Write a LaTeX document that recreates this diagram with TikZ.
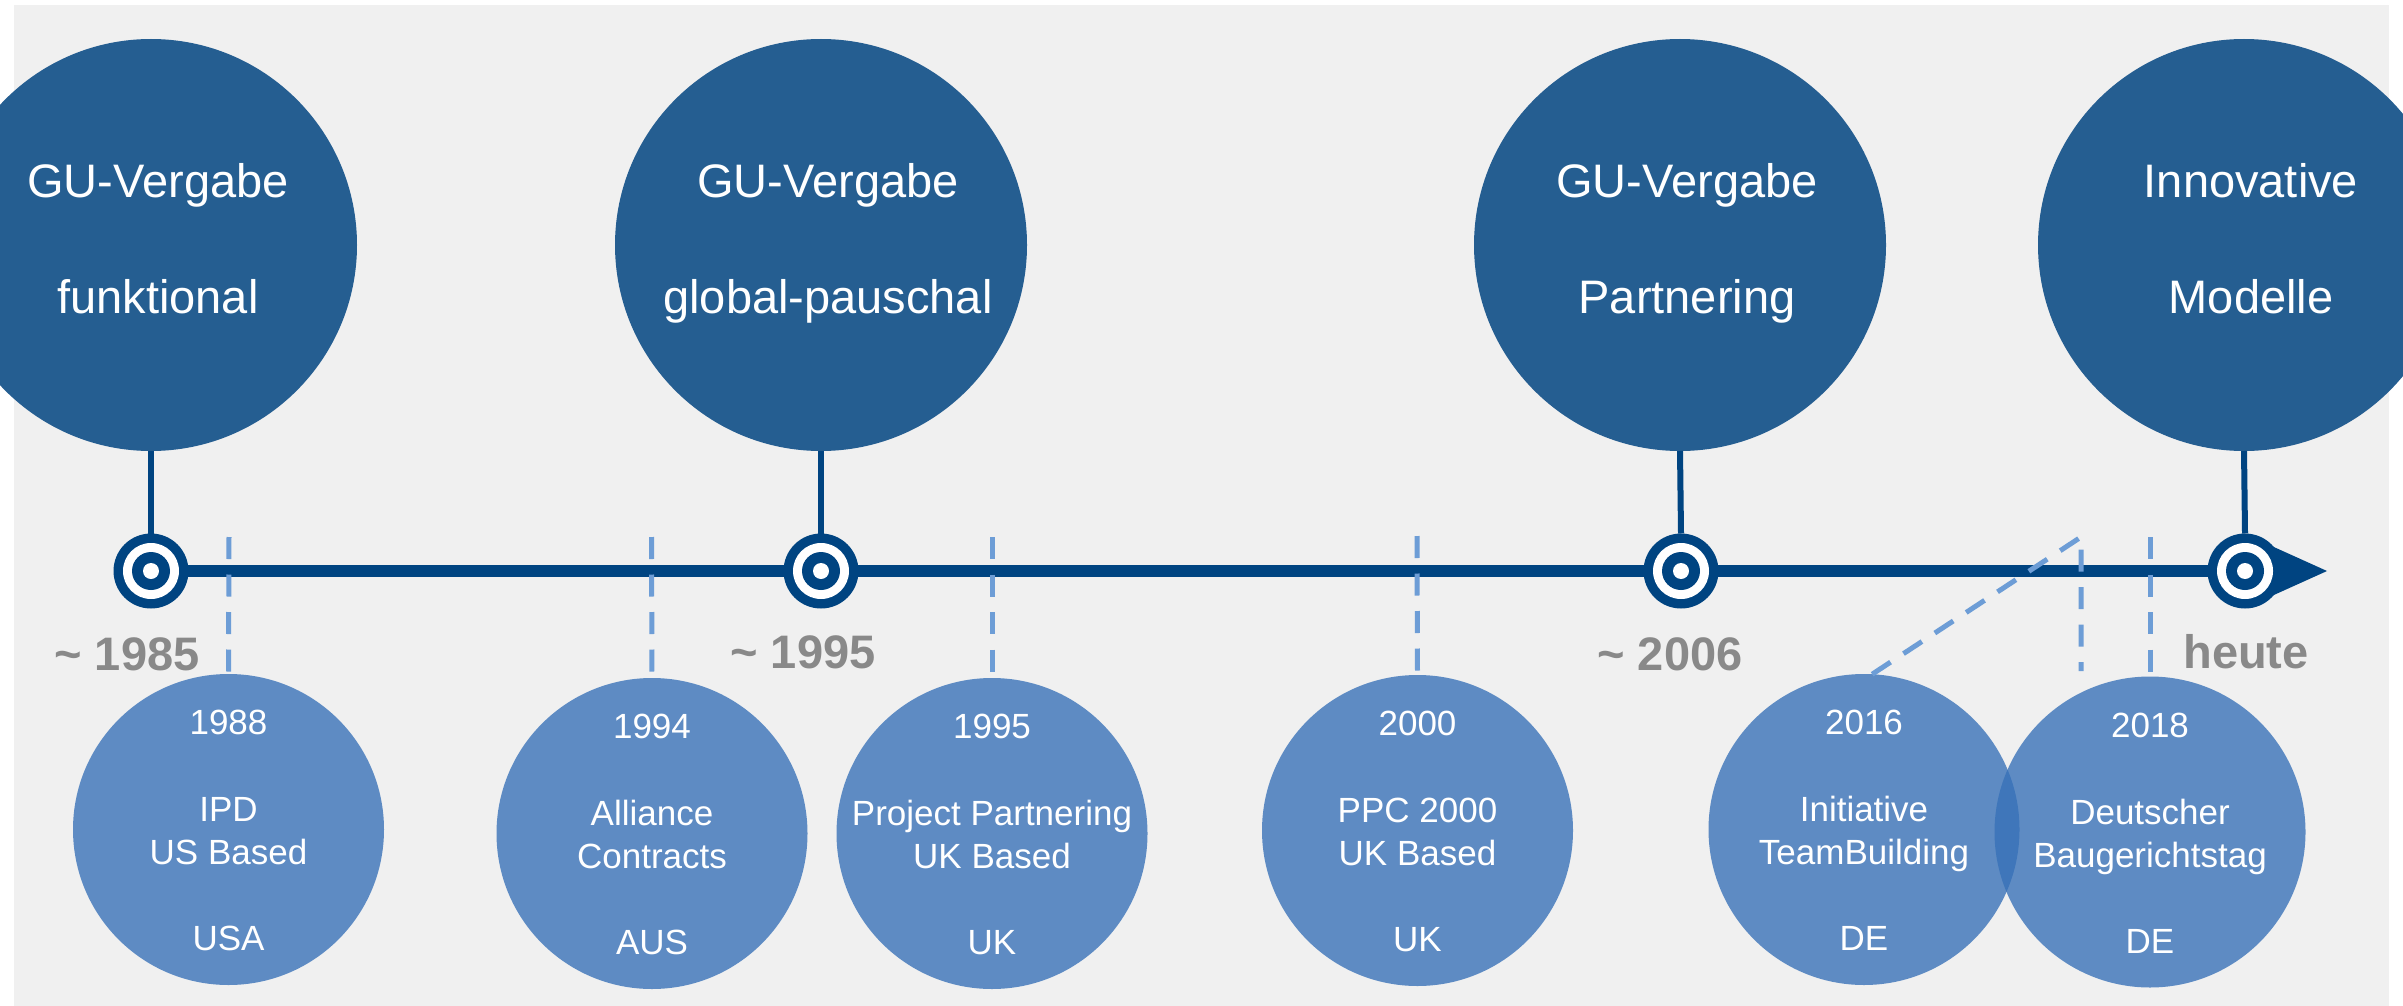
\documentclass[tikz,border=0pt]{standalone}
\usepackage{fontspec}
\setmainfont{Liberation Sans}
\usetikzlibrary{calc}
\definecolor{bigblue}{RGB}{37,94,145}
\definecolor{tlblue}{RGB}{0,68,129}
\definecolor{smallblue}{RGB}{55,113,184}
\definecolor{dashblue}{RGB}{109,157,214}
\definecolor{bggray}{RGB}{240,240,240}
\definecolor{yeargray}{RGB}{137,137,137}
\newcommand\tlbig[5]{%
  \node[bigc] (#1) at (#2,#3) {};
  \node[btxt] (#1a) at ($(#1.center)+(7,-48)$) {#4};
  \node[btxt] (#1b) at ($(#1.center)+(7,68)$) {#5};
}
\newcommand\tlsmall[7]{%
  \node[smallc] (#1) at (#2,#3) {};
  \node[stxt] (#1y) at ($(#1.center)+(0,-95)$) {#4};
  \node[stxt] (#1a) at ($(#1.center)+(0,-8)$) {#5};
  \node[stxt] (#1b) at ($(#1.center)+(0,35)$) {#6};
  \node[stxt] (#1c) at ($(#1.center)+(0,121)$) {#7};
}
\begin{document}
\begin{tikzpicture}[x=1pt,y=-1pt,
  bigc/.style={circle, fill=bigblue, minimum size=412pt, inner sep=0pt, outer sep=0pt},
  btxt/.style={anchor=base, text=white, font=\fontsize{47}{56}\selectfont, inner sep=0pt},
  smallc/.style={circle, fill=smallblue, fill opacity=0.79, minimum size=311pt, inner sep=0pt, outer sep=0pt},
  stxt/.style={anchor=base, text=white, font=\fontsize{35}{42}\selectfont, inner sep=0pt},
  ytxt/.style={anchor=base, text=yeargray, font=\fontsize{47}{56}\selectfont\bfseries, inner sep=0pt},
  marker/.style={circle, fill=tlblue, minimum size=75pt, inner sep=0pt, outer sep=0pt,
    path picture={
      \fill[white] (path picture bounding box.center) circle (28pt);
      \fill[tlblue] (path picture bounding box.center) circle (19pt);
      \fill[white] (path picture bounding box.center) circle (8pt);
    }},
  tline/.style={draw=tlblue, line width=12.5pt},
  conn/.style={draw=tlblue, line width=6pt},
  dashc/.style={draw=dashblue, line width=5pt, dash pattern=on 22pt off 15.5pt},
]
\clip (0,0) rectangle (2403,1006);
\fill[white] (0,0) rectangle (2403,1006);
\fill[bggray] (14,5) rectangle (2389,1006);

% big circles
\tlbig{g1}{151}{245}{GU-Vergabe}{funktional}
\tlbig{g2}{821}{245}{GU-Vergabe}{global-pauschal}
\tlbig{g3}{1680}{245}{GU-Vergabe}{Partnering}
\tlbig{g4}{2244}{245}{Innovative}{Modelle}

% marker positions
\coordinate (p1) at (151,571);
\coordinate (p2) at (821,571);
\coordinate (p3) at (1681,571);
\coordinate (p4) at (2245,571);
\coordinate (tip) at (2327,571);

% timeline and arrow
\draw[tline] (p1) -- (p4);
\fill[tlblue] ([yshift=37pt]p4) -- (tip) -- ([yshift=-37pt]p4) -- cycle;

% markers
\node[marker] (m1) at (p1) {};
\node[marker] (m2) at (p2) {};
\node[marker] (m3) at (p3) {};
\node[marker] (m4) at (p4) {};

% connectors
\draw[conn] (g1.south) -- (m1.north);
\draw[conn] (g2.south) -- (m2.north);
\draw[conn] (g3.south) -- (m3.north);
\draw[conn] (g4.south) -- (m4.north);

% year labels
\node[ytxt] (y1) at (127,670) {\textasciitilde{} 1985};
\node[ytxt] (y2) at (803,668) {\textasciitilde{} 1995};
\node[ytxt] (y3) at (1670,670) {\textasciitilde{} 2006};
\node[ytxt] (y4) at (2246,668) {heute};

% small circles
\tlsmall{s1}{228.5}{829.5}{1988}{IPD}{US Based}{USA}
\tlsmall{s2}{652}{833.5}{1994}{Alliance}{Contracts}{AUS}
\tlsmall{s3}{992}{833.5}{1995}{Project Partnering}{UK Based}{UK}
\tlsmall{s4}{1417.5}{830.5}{2000}{PPC 2000}{UK Based}{UK}
\tlsmall{s5}{1864}{829.5}{2016}{Initiative}{TeamBuilding}{DE}
\tlsmall{s6}{2150}{832}{2018}{Deutscher}{Baugerichtstag}{DE}

% dashed connectors
\coordinate (d1) at (229,537);
\coordinate (d2) at (651.5,537);
\coordinate (d3) at (992,537);
\coordinate (d4) at (1417,536);
\coordinate (d5) at (2081,537);
\coordinate (d5b) at (2081,671);
\coordinate (d6) at (2150,537);
\draw[dashc] (d1) -- (s1.north);
\draw[dashc] (d2) -- (s2.north);
\draw[dashc] (d3) -- (s3.north);
\draw[dashc] (d4) -- (s4.north);
\draw[dashc] (s5.87) -- (d5) -- (d5b);
\draw[dashc] (d6) -- (s6.north);
\end{tikzpicture}
\end{document}
